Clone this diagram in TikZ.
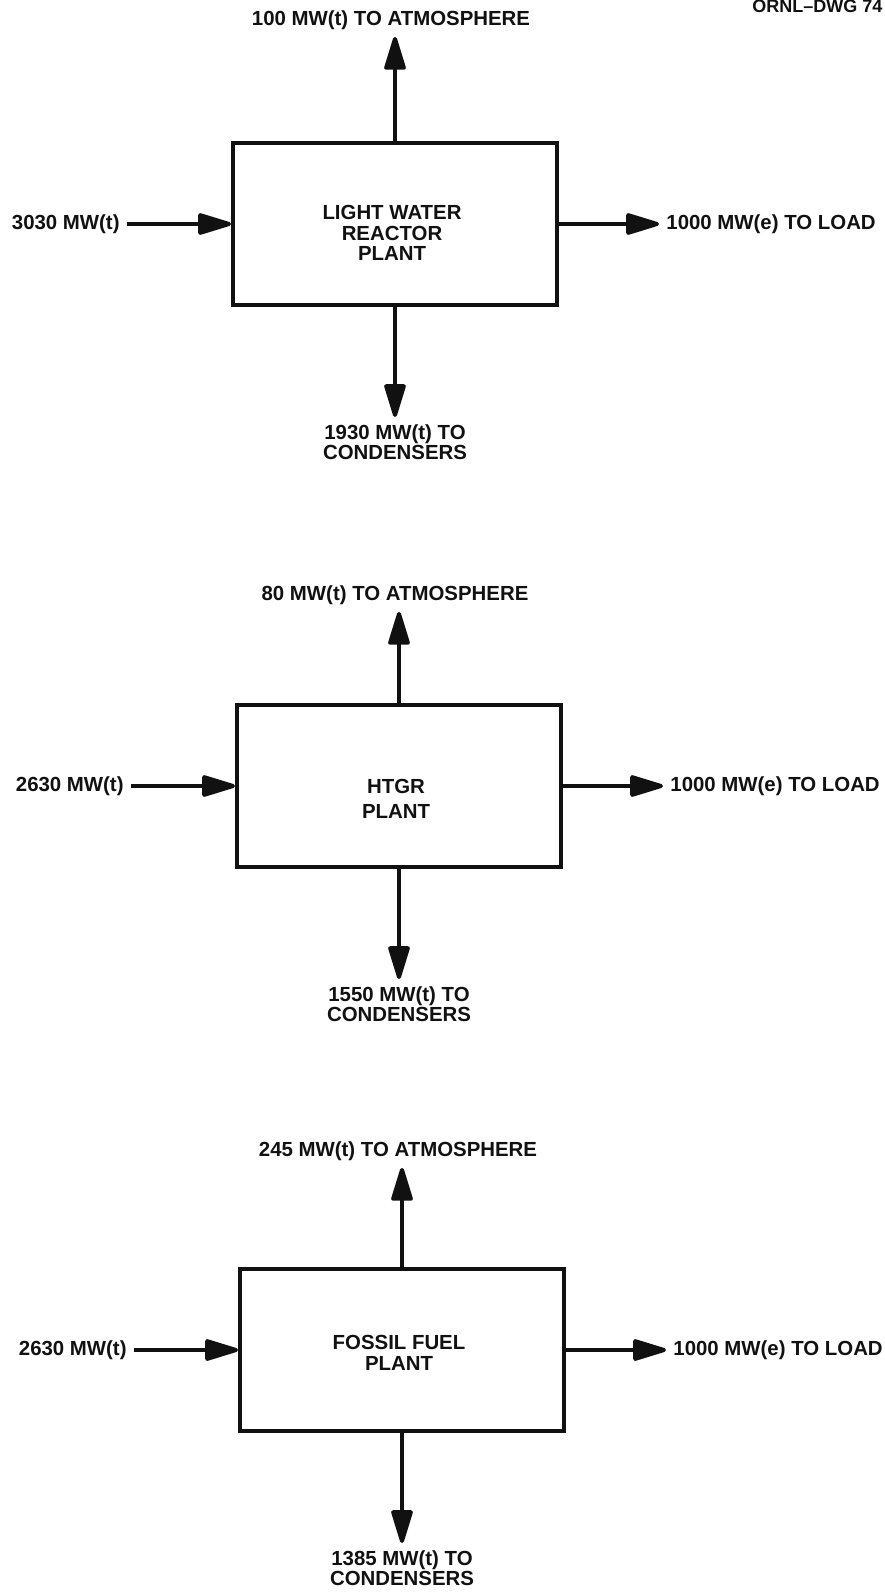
\documentclass[tikz,border=0pt]{standalone}
\usepackage{fontspec}
\setmainfont{Liberation Sans}
\usepackage{tikz}
\definecolor{ornlInk}{HTML}{111111}
\usetikzlibrary{arrows.meta,positioning}

\begin{document}
\begin{tikzpicture}[x=0.5pt,y=-0.5pt, every node/.style={font=\bfseries\fontsize{10.2}{10.25}\selectfont, text=ornlInk, inner sep=3.5pt},
  plantbox/.style={draw=ornlInk, line width=2pt, minimum width=162pt, minimum height=81pt},
  plantname/.style={align=center, inner sep=0pt},
  flow/.style={draw=ornlInk, line width=2pt, -{Triangle[length=19pt,width=11pt,round]}}]
  \useasboundingbox (0,0) rectangle (884,1594);
  \node[anchor=north west, inner sep=0pt, font=\bfseries\fontsize{9}{9}\selectfont] (dwg) at (752,0) {ORNL--DWG 74};
  \foreach \i/\bx/\by/\plant/\ty/\fuel/\atm/\ay/\cond in {1/395/224/{LIGHT WATER\\REACTOR\\PLANT}/9/3030/100/20/1930,2/399/786/{HTGR\\[2.5pt]PLANT}/13/2630/80/595/1550,3/402/1350/{FOSSIL FUEL\\PLANT}/3/2630/245/1151/1385} {
    \node[plantbox] (box\i) at (\bx,\by) {};
    \node[plantname] (name\i) at (\bx-3,\by+\ty) {\plant};
    \node[left=52pt of box\i.west] (fuel\i) {\fuel~MW(t)};
    \node[right=50pt of box\i.east] (load\i) {1000 MW(e) TO LOAD};
    \node (atm\i) at (\bx-4,\ay) {\atm~MW(t) TO ATMOSPHERE};
    \node[below=55pt of box\i.south, align=center, font=\bfseries\fontsize{10.2}{8.8}\selectfont] (cond\i) {\cond~MW(t) TO\\CONDENSERS};
    \draw[flow] (fuel\i) -- (fuel\i -| box\i.west);
    \draw[flow] (box\i.east) -- (load\i.west);
    \draw[flow] (box\i.north) -- (box\i.north |- atm\i.south);
    \draw[flow] (box\i.south) -- (cond\i.north);
  }
\end{tikzpicture}
\end{document}
